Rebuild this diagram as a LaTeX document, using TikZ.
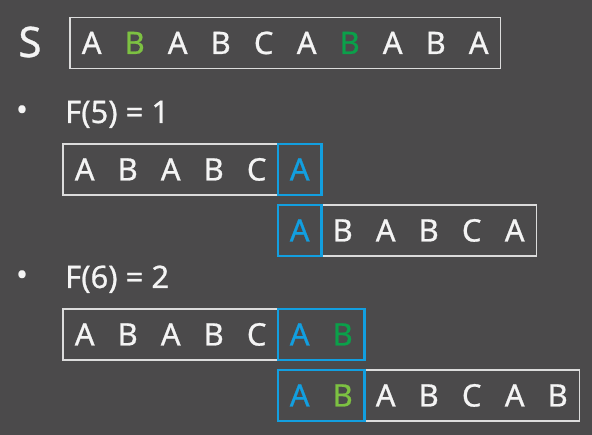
\documentclass[tikz,border=0pt]{standalone}
\usepackage{fontspec}
\setmainfont{Noto Sans}
\newfontfamily\slidefont{Noto Sans}[BoldFont={Noto Sans}, BoldFeatures={FakeBold=0.8}]
\usetikzlibrary{positioning, matrix}
\definecolor{slate}{HTML}{4B4A4B}
\definecolor{boxline}{HTML}{DCDCDC}
\definecolor{lettercol}{HTML}{F4F4F4}
\definecolor{matchblue}{HTML}{129FE0}
\definecolor{lightgreen}{HTML}{7DC142}
\definecolor{darkgreen}{HTML}{0BA04A}
\tikzset{
    cell/.style={minimum width=43pt, minimum height=51pt, inner sep=0pt, text height=22pt, text depth=0pt, text=lettercol, font=\slidefont\bfseries\fontsize{31}{33}\selectfont},
    strrow/.style={matrix of nodes, nodes={cell}, column sep=0pt, inner sep=0pt, anchor=west},
    whitebox/.style={draw=boxline, line width=1.5pt},
    bluebox/.style={draw=matchblue, line width=2.5pt},
    label/.style={text=lettercol, inner sep=0pt, font=\slidefont\bfseries\fontsize{31}{33}\selectfont},
    blueA/.style={text=matchblue},
}

\begin{document}
\begin{tikzpicture}[x=1pt, y=-1pt]

    % Background
    \fill[slate] (0,0) rectangle (592,435);
    \useasboundingbox (0,0) rectangle (592,435);

    % Labels
    \node (sname) [label, font=\slidefont\bfseries\fontsize{42}{44}\selectfont, anchor=center] at (30,42) {S};
    \node (bulletfive) [label, anchor=center] at (22,113) {•};
    \node (ffive) [label, anchor=base west] at (65,123) {F(5) = 1};
    \node (bulletsix) [label, anchor=center] at (22,278) {•};
    \node (fsix) [label, anchor=base west] at (65,288) {F(6) = 2};

    % Strings
    \matrix (srow) [strrow] at (70,43) {
        A & |[text=lightgreen]| B & A & B & C & A & |[text=darkgreen]| B & A & B & A \\
    };
    \matrix (fiveprefix) [strrow] at (63,169.5) {
        A & B & A & B & C & |[blueA]| A \\
    };
    \matrix (fivesuffix) [strrow] at (278,230.5) {
        |[blueA]| A & B & A & B & C & A \\
    };
    \matrix (sixprefix) [strrow] at (63,334.5) {
        A & B & A & B & C & |[blueA]| A & |[text=darkgreen]| B \\
    };
    \matrix (sixsuffix) [strrow] at (278,395.5) {
        |[blueA]| A & |[text=lightgreen]| B & A & B & C & A & B \\
    };

    % Boxes
    \draw [whitebox] (srow-1-1.north west) rectangle (srow-1-10.south east);
    \draw [whitebox] (fiveprefix-1-1.north west) rectangle (fiveprefix-1-5.south east);
    \draw [bluebox] (fiveprefix-1-6.north west) rectangle (fiveprefix-1-6.south east);
    \draw [whitebox] (fivesuffix-1-2.north west) rectangle (fivesuffix-1-6.south east);
    \draw [bluebox] (fivesuffix-1-1.north west) rectangle (fivesuffix-1-1.south east);
    \draw [whitebox] (sixprefix-1-1.north west) rectangle (sixprefix-1-5.south east);
    \draw [bluebox] (sixprefix-1-6.north west) rectangle (sixprefix-1-7.south east);
    \draw [whitebox] (sixsuffix-1-3.north west) rectangle (sixsuffix-1-7.south east);
    \draw [bluebox] (sixsuffix-1-1.north west) rectangle (sixsuffix-1-2.south east);

\end{tikzpicture}
\end{document}
